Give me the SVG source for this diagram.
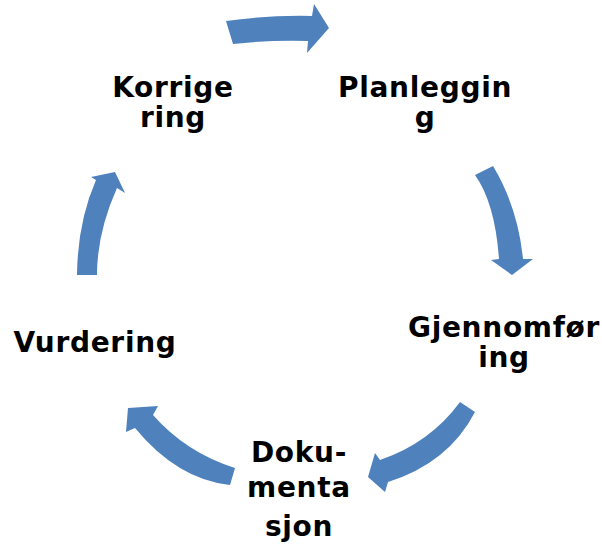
<svg xmlns="http://www.w3.org/2000/svg" width="602" height="544" viewBox="0 0 602 544">
<style>
.lbl{font-family:"DejaVu Sans","Verdana",sans-serif;font-weight:bold;font-size:28px;letter-spacing:0.7px;fill:#000;text-anchor:middle}
.arr{fill:#4F81BD;stroke:none}
</style>
<rect width="602" height="544" fill="#fff"/>
<g id="connectors">
<path class="arr" d="M226 21 Q268 15 312 16 L314 4 L329 28 L307 53 L308 41 Q268 40 233 44 Z"/>
<path class="arr" d="M475 175 L493 166 Q518 207.5 523 259 L533 259 L512 275 L491 260 L499 259 Q495 203 475 175 Z"/>
<path class="arr" d="M460 402 L475 412 Q448.5 463 388 482 L385 492 L368 477 L375 453 L380 460 Q430 443 460 402 Z"/>
<path class="arr" d="M235 468 L230 485 Q177.5 479.5 135 428 L126 432 L128 408 L158 406 L153 415 Q186 452.5 235 468 Z"/>
<path class="arr" d="M77 275 Q77.5 222.5 96 180 L91 177 L115 172 L125 193 L117 188 Q97 232.5 97 275 Z"/>
</g>
<g id="planlegging"><text class="lbl" x="425" y="97">Planleggin</text><text class="lbl" x="425" y="127">g</text></g>
<g id="gjennomforing"><text class="lbl" x="504" y="337">Gjennomfør</text><text class="lbl" x="504" y="367">ing</text></g>
<g id="dokumentasjon"><text class="lbl" x="299" y="462">Doku-</text><text class="lbl" x="299" y="497">menta</text><text class="lbl" x="299" y="536">sjon</text></g>
<g id="vurdering"><text class="lbl" x="95" y="352">Vurdering</text></g>
<g id="korrigering"><text class="lbl" x="173" y="97">Korrige</text><text class="lbl" x="173" y="127">ring</text></g>
</svg>
